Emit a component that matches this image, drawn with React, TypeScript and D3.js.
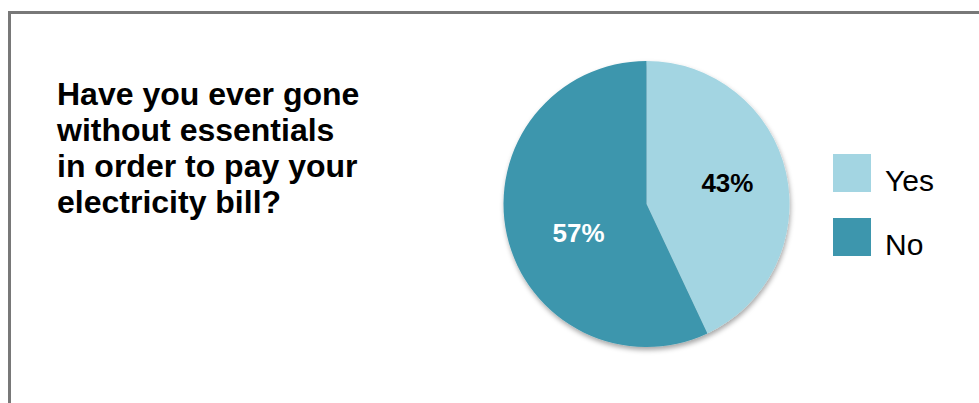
import React from "react";
import * as d3 from "d3";

const categories = ["Yes", "No"];
const values = [43, 57];
const labels = ["43%", "57%"];
const colors = ["#A3D5E2", "#3D96AD"];
const labelColors = ["#000000", "#ffffff"];
const labelNudge = [[0, -3], [13, 11]];
const titleLines = [
  "Have you ever gone",
  "without essentials",
  "in order to pay your",
  "electricity bill?",
];

export default function App() {
  const W = 979;
  const H = 403;
  const cx = 646.5;
  const cy = 204;
  const R = 143;
  const pie = d3.pie<number>().sort(null).startAngle(0).endAngle(2 * Math.PI);
  const arcs = pie(values);
  const arc = d3.arc<d3.PieArcDatum<number>>().innerRadius(0).outerRadius(R);
  const labelArc = d3.arc<d3.PieArcDatum<number>>().innerRadius(R * 0.58).outerRadius(R * 0.58);
  const font = "'Liberation Sans', Arial, Helvetica, sans-serif";

  return (
    <div style={{ position: "fixed", left: 0, top: 0, width: W, height: H, background: "#fff" }}>
      <svg width={W} height={H} style={{ display: "block" }}>
        <defs>
          <filter id="shadow" x="-20%" y="-20%" width="140%" height="140%">
            <feDropShadow dx="1" dy="3" stdDeviation="2.5" floodColor="#000" floodOpacity="0.35" />
          </filter>
        </defs>
        <rect x={9.5} y={12.5} width={W + 20} height={H + 20} fill="#fff" stroke="#787878" strokeWidth={3} />
        <g fontFamily={font} fontWeight="bold" fontSize={32} fill="#000">
          {titleLines.map((t, i) => (
            <text key={i} x={57} y={105 + i * 36}>{t}</text>
          ))}
        </g>
        <g transform={`translate(${cx},${cy})`}>
          <g filter="url(#shadow)">
            {arcs.map((a, i) => (
              <path key={i} d={arc(a) || ""} fill={colors[i]} />
            ))}
          </g>
          {arcs.map((a, i) => {
            const [x, y] = labelArc.centroid(a);
            return (
              <text
                key={i}
                x={x + labelNudge[i][0]}
                y={y + labelNudge[i][1]}
                textAnchor="middle"
                dominantBaseline="central"
                fontFamily={font}
                fontWeight="bold"
                fontSize={26}
                fill={labelColors[i]}
              >
                {labels[i]}
              </text>
            );
          })}
        </g>
        <g fontFamily={font} fontSize={30} fill="#000">
          {categories.map((c, i) => (
            <g key={c} transform={`translate(833,${154 + i * 64})`}>
              <rect width={38} height={38} fill={colors[i]} />
              <text x={52} y={37}>{c}</text>
            </g>
          ))}
        </g>
      </svg>
    </div>
  );
}
